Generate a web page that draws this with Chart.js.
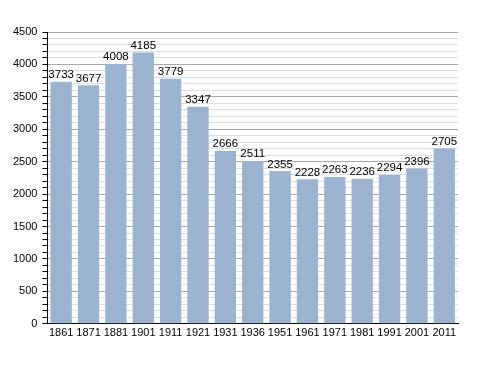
<!DOCTYPE html>
<html lang="en">
<head>
  <meta charset="UTF-8">
  <title>Population</title>
  <script src="https://cdn.jsdelivr.net/npm/chart.js"></script>
  <style>
    html, body { margin: 0; padding: 0; background: #fff; }
    #wrap { width: 488px; height: 373px; }
  </style>
</head>
<body>
  <div id="wrap"><canvas id="popChart" width="488" height="373"></canvas></div>

  <script>
    const years = ['1861', '1871', '1881', '1901', '1911', '1921', '1931', '1936',
                   '1951', '1961', '1971', '1981', '1991', '2001', '2011'];
    const population = [3733, 3677, 4008, 4185, 3779, 3347, 2666, 2511,
                        2355, 2228, 2263, 2236, 2294, 2396, 2705];
    const yMax = 4500;
    const yMajorStep = 500;
    const yMinorStep = 100;

    // values written above each bar
    const valueLabels = {
      id: 'valueLabels',
      afterDatasetsDraw(chart) {
        const ctx = chart.ctx;
        const meta = chart.getDatasetMeta(0);
        ctx.save();
        ctx.font = '11.5px "Liberation Sans", Arial, sans-serif';
        ctx.fillStyle = '#000';
        ctx.textAlign = 'center';
        ctx.textBaseline = 'bottom';
        meta.data.forEach((bar, i) => {
          ctx.fillText(population[i], bar.x, bar.y - 1);
        });
        ctx.restore();
      }
    };

    const ctx = document.getElementById('popChart').getContext('2d');
    new Chart(ctx, {
      type: 'bar',
      data: {
        labels: years,
        datasets: [{
          data: population,
          backgroundColor: '#9bb3cf',
          borderWidth: 0,
          barPercentage: 0.78,
          categoryPercentage: 1
        }]
      },
      options: {
        responsive: false,
        animation: false,
        layout: { padding: { left: 8, right: 30, top: 32, bottom: 30 } },
        plugins: {
          legend: { display: false },
          tooltip: { enabled: false }
        },
        scales: {
          x: {
            grid: { display: false, drawTicks: false },
            border: { display: true, color: '#000', width: 1 },
            ticks: {
              color: '#000',
              padding: 3,
              maxRotation: 0,
              autoSkip: false,
              font: { family: '"Liberation Sans", Arial, sans-serif', size: 11 }
            }
          },
          y: {
            min: 0,
            max: yMax,
            grid: {
              color: c => (c.tick && c.tick.value % yMajorStep === 0) ? '#a8a8a8' : '#dedede',
              tickColor: '#000',
              tickLength: 5,
              lineWidth: 1
            },
            border: { display: true, color: '#000', width: 1 },
            ticks: {
              stepSize: yMinorStep,
              autoSkip: false,
              color: '#000',
              padding: 5,
              font: { family: '"Liberation Sans", Arial, sans-serif', size: 11 },
              callback: v => (v % yMajorStep === 0) ? v : ''
            }
          }
        }
      },
      plugins: [valueLabels]
    });
  </script>
</body>
</html>
